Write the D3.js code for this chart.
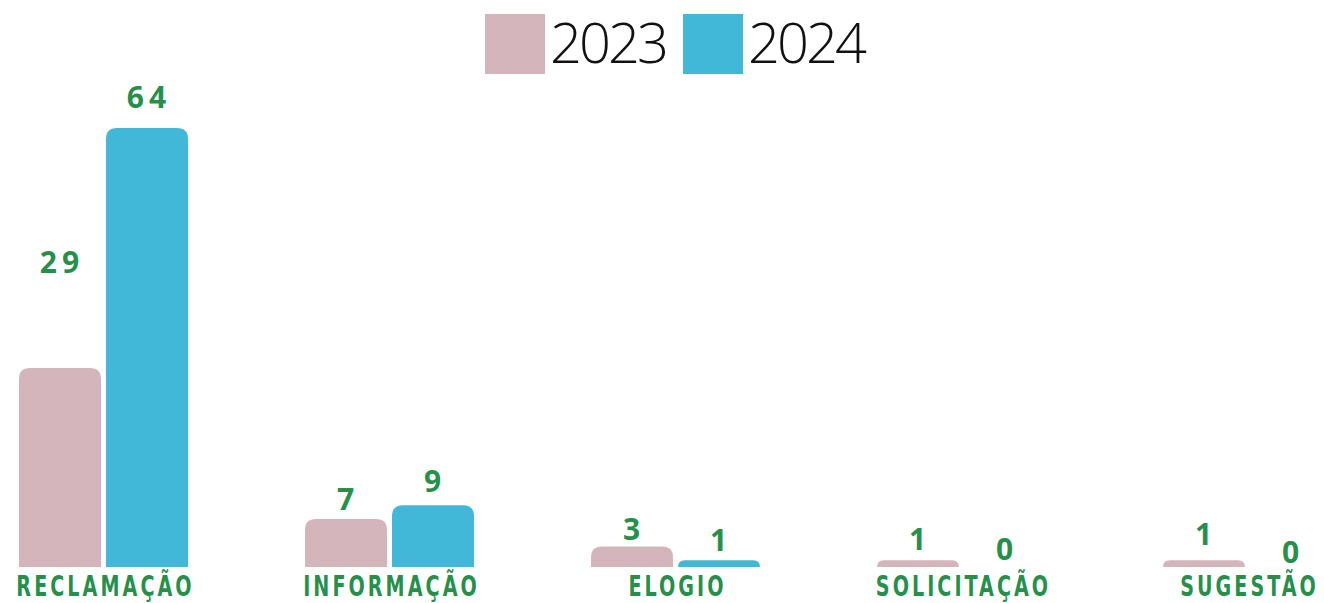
<!DOCTYPE html>
<html>
<head>
<meta charset="utf-8">
<script src="https://cdn.jsdelivr.net/npm/d3@7"></script>
<style>
  body { margin: 0; background: #fff; overflow: hidden; }
  .catLabel { font-family: "DejaVu Sans Condensed", "DejaVu Sans", sans-serif; font-weight: bold; fill: #25904a; }
  .valLabel { font-family: "Open Sans", sans-serif; font-weight: 700; fill: #25904a; }
  .legText { font-family: "Open Sans", sans-serif; font-weight: 300; fill: #111; }
</style>
</head>
<body>
<div id="chart"></div>
<script>
// data
const categories = ["RECLAMAÇÃO", "INFORMAÇÃO", "ELOGIO", "SOLICITAÇÃO", "SUGESTÃO"];
const years = ["2023", "2024"];
const values2023 = [29, 7, 3, 1, 1];
const values2024 = [64, 9, 1, 0, 0];

// the value labels sit at hand-placed heights above the bars (px)
const labelLift2023 = [95, 9, 6, 10, 15];
const labelLift2024 = [20, 13, 9, 7, 4];

const colors = { "2023": "#d4b5bc", "2024": "#42b8d8" };

const width = 1324, height = 603;
const baseY = 567, topY = 128;

const svg = d3.select("#chart").append("svg")
    .attr("width", width)
    .attr("height", height);

const x0 = d3.scaleBand()
    .domain(categories)
    .range([19, 1332])
    .paddingInner(1 - 169 / 286)
    .paddingOuter(0);

const x1 = d3.scaleBand()
    .domain(years)
    .range([0, x0.bandwidth()])
    .paddingInner(5 / 87);

const y = d3.scaleLinear()
    .domain([0, d3.max(values2024)])
    .range([baseY, topY]);

const rows = categories.map((c, i) => ({
    cat: c,
    bars: [
        { year: "2023", value: values2023[i], lift: labelLift2023[i] },
        { year: "2024", value: values2024[i], lift: labelLift2024[i] }
    ]
}));

// bar with rounded top corners only
function topRounded(x, yTop, w, h, r) {
    r = Math.min(r, h, w / 2);
    return `M${x},${yTop + h}V${yTop + r}Q${x},${yTop} ${x + r},${yTop}` +
        `H${x + w - r}Q${x + w},${yTop} ${x + w},${yTop + r}V${yTop + h}Z`;
}

const g = svg.selectAll("g.grp")
    .data(rows)
    .enter().append("g")
    .attr("class", "grp")
    .attr("transform", d => `translate(${x0(d.cat)},0)`);

g.selectAll("path")
    .data(d => d.bars.filter(b => b.value > 0))
    .enter().append("path")
    .attr("fill", d => colors[d.year])
    .attr("d", d => topRounded(x1(d.year), y(d.value), x1.bandwidth(), baseY - y(d.value), 11));

g.selectAll("text.valLabel")
    .data(d => d.bars)
    .enter().append("text")
    .attr("class", "valLabel")
    .attr("x", d => x1(d.year) + x1.bandwidth() / 2 + 2)
    .attr("y", d => y(d.value) - d.lift)
    .attr("text-anchor", "middle")
    .style("font-size", "30px")
    .style("letter-spacing", "5px")
    .text(d => d.value);

// category names: squeezed bold caps
g.append("text")
    .attr("class", "catLabel")
    .attr("transform", `translate(${x0.bandwidth() / 2 + 2},596) scale(0.76,1)`)
    .attr("text-anchor", "middle")
    .style("font-size", "28px")
    .style("letter-spacing", "4px")
    .text(d => d.cat);

// legend
const legend = svg.append("g").attr("transform", "translate(485,14)");
const legX = [0, 198];
years.forEach((yr, i) => {
    legend.append("rect")
        .attr("x", legX[i]).attr("y", 0)
        .attr("width", 60).attr("height", 60)
        .attr("fill", colors[yr]);
    legend.append("text")
        .attr("class", "legText")
        .attr("x", legX[i] + 65)
        .attr("y", 49)
        .style("font-size", "56px")
        .style("letter-spacing", "-3px")
        .text(yr);
});
</script>
</body>
</html>
